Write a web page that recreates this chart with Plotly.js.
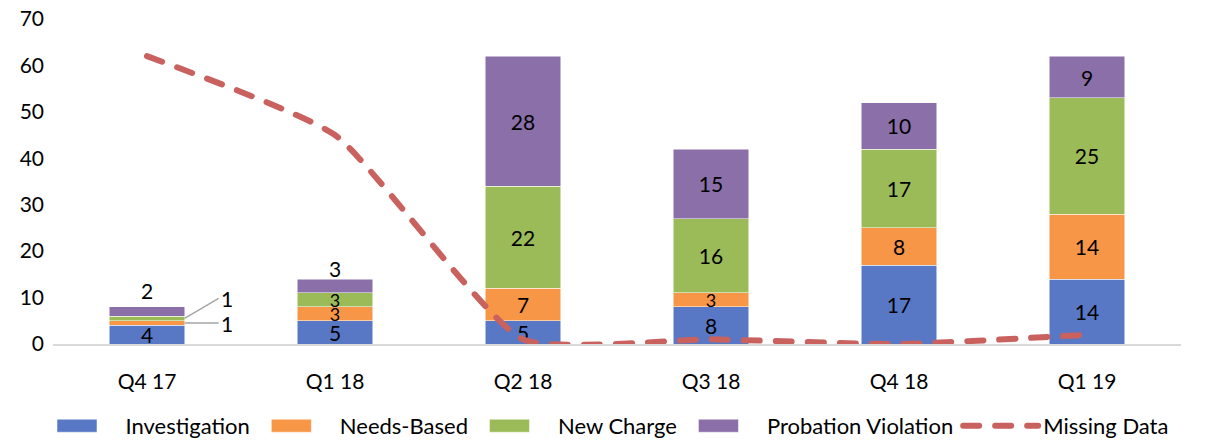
<!DOCTYPE html>
<html>
<head>
<meta charset="utf-8">
<script src="https://cdn.plot.ly/plotly-3.0.1.min.js"></script>
<style>
  html, body { margin: 0; padding: 0; background: #fff; }
  #chart { width: 1214px; height: 440px; }
  .scatterlayer .js-line, .legendlines path { stroke-linecap: round; }
</style>
</head>
<body>
<div id="chart"></div>
<script>
var quarters = ['Q4 17', 'Q1 18', 'Q2 18', 'Q3 18', 'Q4 18', 'Q1 19'];
var investigation = [4, 5, 5, 8, 17, 14];
var needsBased = [1, 3, 7, 3, 8, 14];
var newCharge = [1, 3, 22, 16, 17, 25];
var probation = [2, 3, 28, 15, 10, 9];
var missingData = [62, 45, 1, 1, 0, 2];

var COLORS = {
  inv: '#5878c6',
  need: '#f79646',
  newc: '#9bbb59',
  prob: '#8a6fa9',
  miss: '#c9625f'
};

var FONT = 'Lato, "Open Sans", sans-serif';
var FS = 21;

// labels that Excel pushed out of the bar
function barText(vals, skip) {
  return vals.map(function(v, i) { return skip.indexOf(i) >= 0 ? '' : String(v); });
}

function barTrace(name, vals, color, skip) {
  return {
    x: quarters,
    y: vals,
    name: name,
    type: 'bar',
    marker: { color: color, line: { color: '#ffffff', width: 0.5 } },
    text: barText(vals, skip),
    textposition: 'inside',
    insidetextanchor: 'middle',
    textangle: 0,
    constraintext: 'none',
    // thin segments get a slightly smaller label
    textfont: { family: FONT, size: vals.map(function(v) { return v <= 3 ? 18 : FS; }), color: '#000' },
    hoverinfo: 'name+y'
  };
}

var traces = [
  barTrace('Investigation', investigation, COLORS.inv, []),
  barTrace('Needs-Based', needsBased, COLORS.need, [0]),
  barTrace('New Charge', newCharge, COLORS.newc, [0]),
  barTrace('Probation Violation', probation, COLORS.prob, [0, 1]),
  {
    x: quarters,
    y: missingData,
    name: 'Missing Data',
    type: 'scatter',
    mode: 'lines',
    cliponaxis: false,
    line: { color: COLORS.miss, width: 6, dash: '16px,16px', shape: 'spline', smoothing: 0.5 }
  }
];

function stackTop(i) {
  return investigation[i] + needsBased[i] + newCharge[i] + probation[i];
}

var annotations = [
  { x: 0, y: stackTop(0), text: String(probation[0]), showarrow: false, yanchor: 'bottom', yshift: 2 },
  { x: 1, y: stackTop(1), text: String(probation[1]), showarrow: false, yanchor: 'bottom', yshift: -4 },
  { x: 0.2, y: investigation[0] + needsBased[0] + newCharge[0] / 2, text: String(newCharge[0]),
    showarrow: true, arrowhead: 0, arrowwidth: 1.5, arrowcolor: '#a6a6a6', ax: 34, ay: -20, xanchor: 'left', standoff: 0 },
  { x: 0.2, y: investigation[0] + needsBased[0] / 2, text: String(needsBased[0]),
    showarrow: true, arrowhead: 0, arrowwidth: 1.5, arrowcolor: '#a6a6a6', ax: 34, ay: 0, xanchor: 'left', standoff: 0 }
].map(function(a) {
  a.xref = 'x'; a.yref = 'y';
  a.font = { family: FONT, size: FS, color: '#000' };
  return a;
});

var layout = {
  width: 1214,
  height: 440,
  paper_bgcolor: '#fff',
  plot_bgcolor: '#fff',
  font: { family: FONT, color: '#000', size: FS },
  margin: { t: 19, r: 33, b: 96, l: 53 },
  barmode: 'stack',
  bargap: 0.6,
  showlegend: true,
  xaxis: {
    type: 'category',
    showline: true,
    linecolor: '#d9d9d9',
    linewidth: 1.5,
    ticks: '',
    ticklabelstandoff: 18,
    tickfont: { family: FONT, size: FS, color: '#000' },
    fixedrange: true
  },
  yaxis: {
    range: [0, 70],
    dtick: 10,
    showgrid: false,
    zeroline: false,
    showline: false,
    ticks: '',
    ticklabelstandoff: 8,
    tickfont: { family: FONT, size: FS, color: '#000' },
    fixedrange: true
  },
  legend: {
    orientation: 'h',
    x: 0.5,
    xanchor: 'center',
    xref: 'container',
    y: 0.032,
    yanchor: 'middle',
    yref: 'container',
    traceorder: 'normal',
    itemwidth: 75,
    font: { family: FONT, size: 22, color: '#000' }
  },
  annotations: annotations
};

Plotly.newPlot('chart', traces, layout, { displayModeBar: false, staticPlot: true }).then(function(gd) {
  // wide legend swatches like Excel
  gd.querySelectorAll('.legend .legendpoints path').forEach(function(p) {
    p.setAttribute('d', 'M14,6.5H-26V-6.5H14Z');
  });
});
</script>
</body>
</html>
